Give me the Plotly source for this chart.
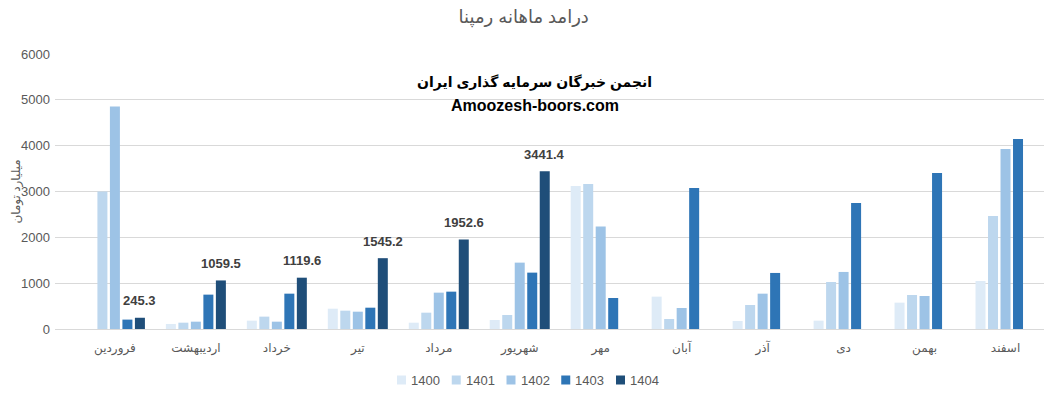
import plotly.graph_objects as go

months = ["فروردین", "اردیبهشت", "خرداد", "تیر", "مرداد", "شهریور",
          "مهر", "آبان", "آذر", "دی", "بهمن", "اسفند"]
years = ["1400", "1401", "1402", "1403", "1404"]

v1400 = [None, 110, 182, 443, 138, 196, 3122, 706, 175, 182, 575, 1048]
v1401 = [3000, 138, 270, 400, 356, 305, 3166, 218, 524, 1026, 742, 2467]
v1402 = [4854, 160, 160, 378, 793, 1448, 2234, 458, 771, 1245, 720, 3930]
v1403 = [205, 750, 771, 465, 815, 1230, 677, 3079, 1223, 2751, 3406, 4148]
v1404 = [245.3, 1059.5, 1119.6, 1545.2, 1952.6, 3441.4, None, None, None, None, None, None]

series = [v1400, v1401, v1402, v1403, v1404]
colors = ["#DEEBF7", "#BDD7EE", "#9DC3E6", "#2E75B6", "#1F4E79"]

title_text = "درآمد ماهانه رمپنا"
ytitle_text = "میلیارد تومان"
wm1 = "انجمن خبرگان سرمایه گذاری ایران"
wm2 = "Amoozesh-boors.com"

FONT = "Liberation Sans, DejaVu Sans, sans-serif"
xs = list(range(len(months)))

# layout constants (page has an 8px body margin, compensated here)
W, H = 1044, 389
ML, MR, MT, MB = 47, 6, 46, 68
PW, PH = W - ML - MR, H - MT - MB
BARGAP = 0.228
NSER = len(years)
slot = (1 - BARGAP) / NSER

fig = go.Figure()
for yr, vals, col in zip(years, series, colors):
    fig.add_trace(go.Bar(
        x=xs, y=vals, name=yr, marker=dict(color=col, line=dict(width=0)),
        showlegend=False,
    ))

annotations = [
    dict(text=ytitle_text, textangle=-90, xref="paper", yref="paper",
         x=-38.5 / PW, y=0.498, xanchor="center", yanchor="middle", showarrow=False,
         font=dict(size=12, color="#595959", family=FONT)),
    dict(text="<b>" + wm1 + "</b>", xref="paper", yref="paper",
         x=0.484, y=0.898, xanchor="center", yanchor="middle", showarrow=False,
         font=dict(size=14, color="black", family=FONT)),
    dict(text="<b>" + wm2 + "</b>", xref="paper", yref="paper",
         x=0.484, y=0.811, xanchor="center", yanchor="middle", showarrow=False,
         font=dict(size=16, color="black", family=FONT)),
]

# data labels for the last series
last_off = (NSER - 1 - (NSER - 1) / 2) * slot
for xi, v in zip(xs, v1404):
    if v is None:
        continue
    annotations.append(dict(
        text=f"<b>{v:.1f}</b>", x=xi + last_off, y=v, xref="x", yref="y",
        xanchor="center", yanchor="middle", yshift=17, showarrow=False,
        font=dict(size=13, color="#404040", family=FONT)))

# custom legend (compact Excel style)
shapes = []
leg_x0, leg_pitch, sq, leg_y = 342.0, 54.75, 9, -51.0  # px relative to plot area
for i, (yr, col) in enumerate(zip(years, colors)):
    x0 = leg_x0 + i * leg_pitch
    shapes.append(dict(type="rect", xref="paper", yref="paper",
                       x0=x0 / PW, x1=(x0 + sq) / PW,
                       y0=(leg_y - sq / 2) / PH, y1=(leg_y + sq / 2) / PH,
                       fillcolor=col, line=dict(width=0), layer="above"))
    annotations.append(dict(text=yr, xref="paper", yref="paper",
                            x=(x0 + sq + 3) / PW, y=leg_y / PH,
                            xanchor="left", yanchor="middle", showarrow=False,
                            font=dict(size=13, color="#595959", family=FONT)))

fig.update_layout(
    width=W, height=H,
    barmode="group", bargap=BARGAP, bargroupgap=0.2,
    plot_bgcolor="white", paper_bgcolor="white",
    margin=dict(l=ML, r=MR, t=MT, b=MB, autoexpand=False),
    font=dict(family=FONT, color="#595959"),
    title=dict(text=title_text, x=(ML + PW * 0.473) / W, xanchor="center", y=0.977, yanchor="middle",
               font=dict(size=18, color="#595959", family=FONT)),
    showlegend=False,
    xaxis=dict(tickmode="array", tickvals=xs, ticktext=months, range=[-0.74, 11.5],
               showgrid=False, zeroline=False, showline=False, ticks="",
               automargin=False, ticklabelstandoff=10,
               tickfont=dict(size=12, color="#595959", family=FONT)),
    yaxis=dict(range=[0, 6000], dtick=1000, showgrid=True, gridcolor="#D9D9D9",
               gridwidth=1, zeroline=True, zerolinecolor="#D9D9D9", zerolinewidth=1,
               showline=False, ticks="", automargin=False, ticklabelstandoff=4,
               tickfont=dict(size=13, color="#595959", family=FONT)),
    annotations=annotations,
    shapes=shapes,
)

fig.write_html("out.html")
